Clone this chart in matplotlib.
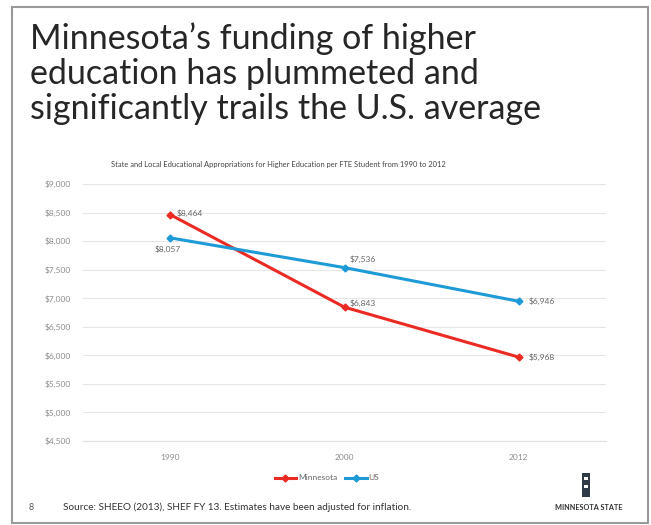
import matplotlib
matplotlib.use("Agg")
import matplotlib.pyplot as plt
from matplotlib.patches import Rectangle

# data
years = ["1990", "2000", "2012"]
minnesota = [8464, 6843, 5968]
us = [8057, 7536, 6946]
yticks = [4500, 5000, 5500, 6000, 6500, 7000, 7500, 8000, 8500, 9000]
title_lines = ["Minnesota\u2019s funding of higher",
               "education has plummeted and",
               "significantly trails the U.S. average"]

W, H = 651, 525
RED = "#ec2a24"
BLUE = "#1e9bd7"
GRAY = "#8c8c8c"

plt.rcParams['font.family'] = ['Lato', 'DejaVu Sans']

fig = plt.figure(figsize=(W / 100, H / 100), dpi=100)
fig.patch.set_facecolor("white")


def fx(px):
    return px / W


def fy(py):
    return 1 - py / H


# slide frame
fig.patches.append(Rectangle((fx(12), fy(523)), fx(636), (516) / H,
                             transform=fig.transFigure, fill=False,
                             edgecolor="#9a9a9a", linewidth=1.5))

for i, line in enumerate(title_lines):
    fig.text(fx(30), fy(49 + 35 * i), line, fontsize=24.5, color="#262626",
             va="baseline", ha="left")

fig.text(fx(278), fy(165), "State and Local Educational Appropriations for Higher "
         "Education per FTE Student from 1990 to 2012",
         fontsize=5.4, color="#444444", ha="center", va="center")

ax = fig.add_axes([fx(83), fy(441), fx(606) - fx(83), (441 - 184) / H])
x = range(len(years))
ax.plot(x, minnesota, color=RED, lw=2.2, marker="D", ms=3.5, label="Minnesota", zorder=3)
ax.plot(x, us, color=BLUE, lw=2.2, marker="D", ms=3.5, label="US", zorder=3)

ax.set_xlim(-0.5, len(years) - 0.5)
ax.set_ylim(yticks[0], yticks[-1])
ax.set_yticks(yticks)
ax.set_yticklabels(["${:,}".format(v) for v in yticks])
ax.set_xticks(list(x))
ax.set_xticklabels(years)
ax.tick_params(length=0, labelsize=6, labelcolor=GRAY, pad=9)
ax.tick_params(axis="y", pad=9)
ax.grid(axis="y", color="#e6e6e6", lw=0.8)
ax.set_axisbelow(True)
for s in ["top", "right", "left"]:
    ax.spines[s].set_visible(False)
ax.spines["bottom"].set_color("#e0e0e0")

# data labels
lab = dict(fontsize=6, color="#666666", va="center")
ax.annotate("${:,}".format(minnesota[0]), (0, minnesota[0]), xytext=(5, 1),
            textcoords="offset points", ha="left", **lab)
ax.annotate("${:,}".format(us[0]), (0, us[0]), xytext=(-2, -8),
            textcoords="offset points", ha="center", **lab)
ax.annotate("${:,}".format(us[1]), (1, us[1]), xytext=(4, 6),
            textcoords="offset points", ha="left", **lab)
ax.annotate("${:,}".format(minnesota[1]), (1, minnesota[1]), xytext=(4, 3),
            textcoords="offset points", ha="left", **lab)
ax.annotate("${:,}".format(us[2]), (2, us[2]), xytext=(7, 0),
            textcoords="offset points", ha="left", **lab)
ax.annotate("${:,}".format(minnesota[2]), (2, minnesota[2]), xytext=(7, 0),
            textcoords="offset points", ha="left", **lab)

fig.legend(loc="center", bbox_to_anchor=(fx(327), fy(478)), ncol=2, frameon=False,
           fontsize=6, labelcolor="#666666", handlelength=2.6, columnspacing=1.0,
           handletextpad=0.2)

# footer
fig.text(fx(31), fy(507), "8", fontsize=6.5, color="#555555", ha="center", va="center")
fig.text(fx(63), fy(507), "Source: SHEEO (2013), SHEF FY 13. Estimates have been "
         "adjusted for inflation.", fontsize=7.2, color="#333333", ha="left", va="center")

# logo
fig.patches.append(Rectangle((fx(582), fy(497)), fx(8), 24 / H, transform=fig.transFigure,
                             facecolor="#2f3a48", edgecolor="none"))
for py in (480, 488):
    fig.patches.append(Rectangle((fx(584), fy(py)), fx(4), 3 / H, transform=fig.transFigure,
                                 facecolor="white", edgecolor="none"))
fig.text(fx(589), fy(507), "MINNESOTA STATE", fontsize=5.2, color="#333333",
         ha="center", va="center", fontweight="bold")

fig.savefig("out.png", dpi=100)
